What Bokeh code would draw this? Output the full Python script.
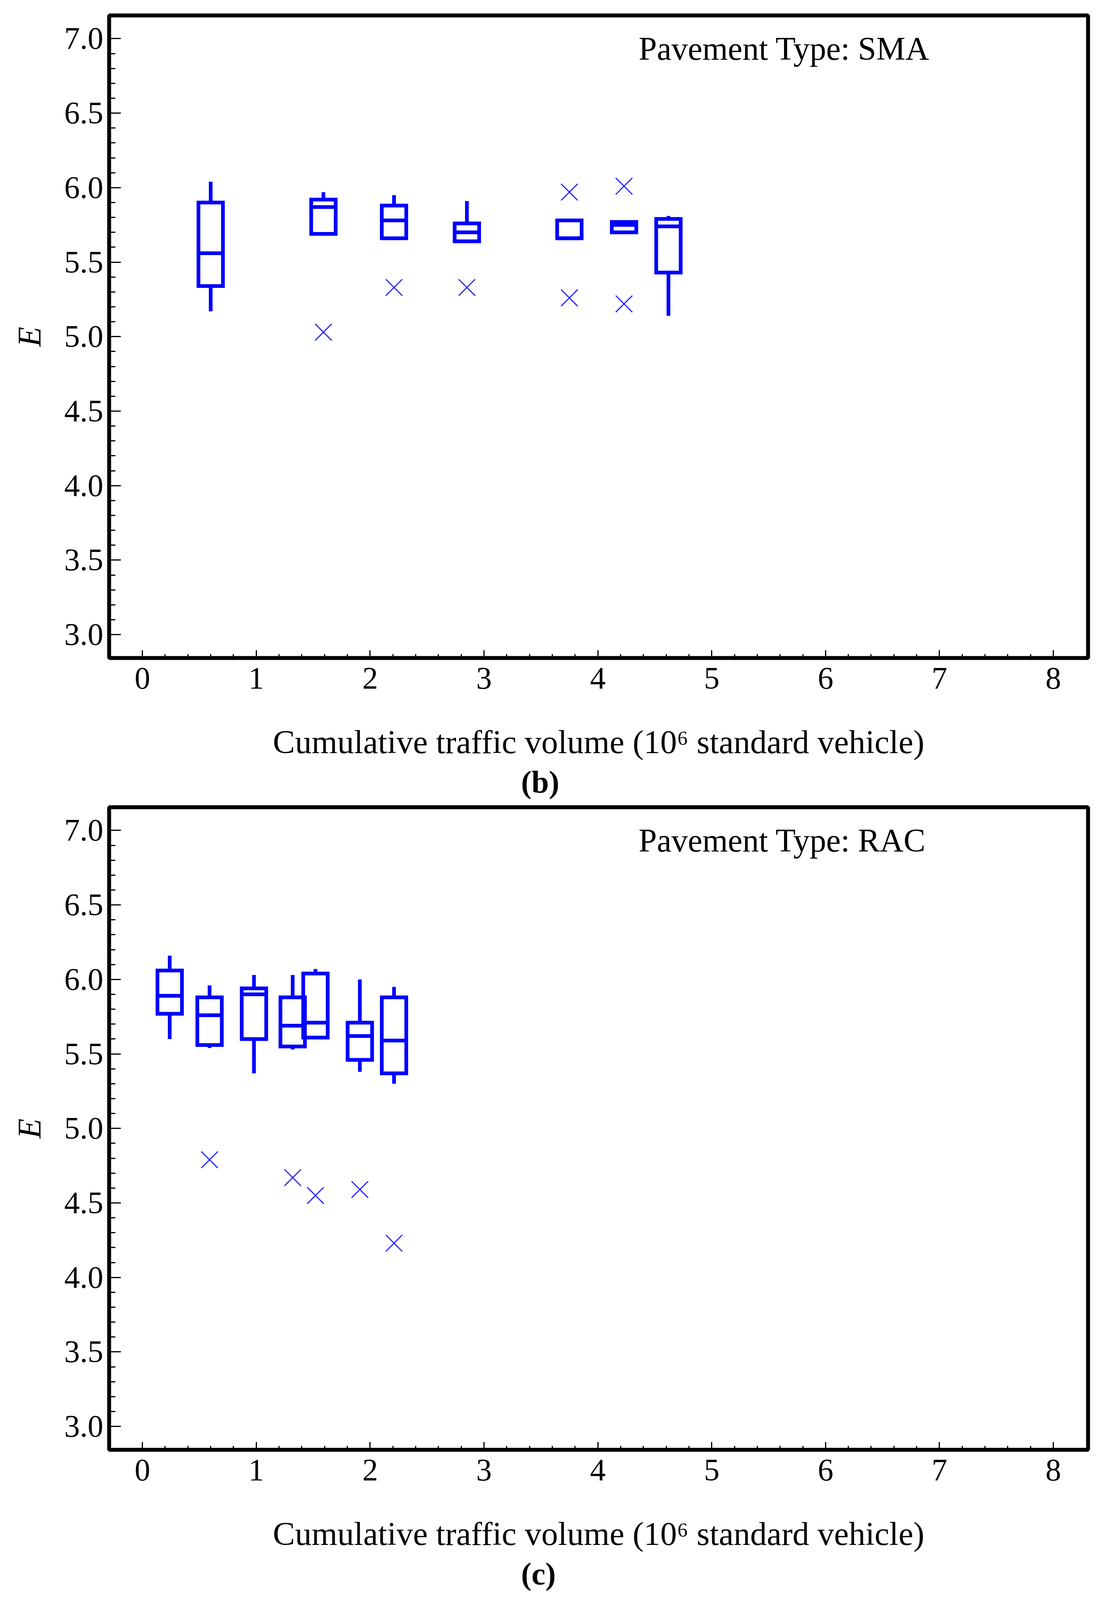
from bokeh.plotting import figure
from bokeh.models import FixedTicker, Label, ColumnDataSource, Title
from bokeh.layouts import column
from bokeh.embed import file_html
from bokeh.resources import INLINE

# ---------------- data ----------------
X_TICKS = [0, 1, 2, 3, 4, 5, 6, 7, 8]
X_TICK_LABELS = ["0", "1", "2", "3", "4", "5", "6", "7", "8"]
Y_TICKS = [3.0, 3.5, 4.0, 4.5, 5.0, 5.5, 6.0, 6.5, 7.0]
Y_TICK_LABELS = ["3.0", "3.5", "4.0", "4.5", "5.0", "5.5", "6.0", "6.5", "7.0"]
X_TITLE = "Cumulative traffic volume (10\u2076 standard vehicle)"
Y_TITLE = "E"

# SMA panel (b)
sma_x = [0.60, 1.59, 2.21, 2.85, 3.75, 4.23, 4.62]
sma_lo = [5.17, 5.69, 5.66, 5.64, 5.66, 5.70, 5.14]
sma_q1 = [5.34, 5.69, 5.66, 5.64, 5.66, 5.70, 5.43]
sma_med = [5.56, 5.87, 5.78, 5.70, 5.66, 5.75, 5.74]
sma_q3 = [5.90, 5.92, 5.88, 5.76, 5.78, 5.77, 5.79]
sma_hi = [6.04, 5.97, 5.95, 5.91, 5.78, 5.77, 5.81]
sma_out_x = [1.59, 2.21, 2.85, 3.75, 3.75, 4.23, 4.23]
sma_out_y = [5.03, 5.33, 5.33, 5.97, 5.26, 6.01, 5.22]

# RAC panel (c)
rac_x = [0.24, 0.59, 0.98, 1.32, 1.52, 1.91, 2.21]
rac_lo = [5.60, 5.54, 5.37, 5.53, 5.61, 5.38, 5.30]
rac_q1 = [5.77, 5.56, 5.60, 5.55, 5.61, 5.46, 5.37]
rac_med = [5.89, 5.76, 5.90, 5.69, 5.71, 5.62, 5.59]
rac_q3 = [6.06, 5.88, 5.94, 5.88, 6.04, 5.71, 5.88]
rac_hi = [6.16, 5.96, 6.03, 6.03, 6.07, 6.00, 5.95]
rac_out_x = [0.59, 1.32, 1.52, 1.91, 2.21]
rac_out_y = [4.79, 4.67, 4.55, 4.59, 4.23]

BOX_W = 0.215
FONT = "Liberation Serif"
BLUE = "#0000ff"
FRAME_H = 1645
BORDER_B = 376


def make_panel(xs, lo, q1, med, q3, hi, ox, oy, ptype, letter, border_top):
    height = border_top + FRAME_H + BORDER_B
    p = figure(width=2804, height=height, title=None,
               x_range=(-0.292, 8.305), y_range=(2.843, 7.156),
               output_backend="svg", toolbar_location=None,
               min_border_left=279, min_border_right=18,
               min_border_top=border_top, min_border_bottom=BORDER_B)
    p.grid.visible = False
    p.background_fill_color = "white"
    p.border_fill_color = "white"
    p.outline_line_color = "black"
    p.outline_line_width = 10

    minor_x = [i * 0.2 for i in range(1, 40) if i % 5 != 0]
    minor_y = [round(3.0 + 0.1 * i, 1) for i in range(1, 40) if i % 5 != 0]
    p.xaxis.ticker = FixedTicker(ticks=X_TICKS, minor_ticks=minor_x)
    p.yaxis.ticker = FixedTicker(ticks=Y_TICKS, minor_ticks=minor_y)
    p.xaxis.major_label_overrides = {t: l for t, l in zip(X_TICKS, X_TICK_LABELS)}
    p.yaxis.major_label_overrides = {t: l for t, l in zip(Y_TICKS, Y_TICK_LABELS)}

    for ax in (p.xaxis, p.yaxis):
        ax.axis_line_color = None
        ax.major_tick_out = 0
        ax.minor_tick_out = 0
        ax.major_tick_line_width = 3
        ax.minor_tick_line_width = 3
        ax.major_tick_line_color = "black"
        ax.minor_tick_line_color = "black"
        ax.major_label_text_font = FONT
        ax.major_label_text_font_size = "80px"
        ax.major_label_text_color = "black"
        ax.axis_label_text_font = FONT
        ax.axis_label_text_color = "black"
    p.yaxis.major_tick_in = 30
    p.yaxis.minor_tick_in = 16
    p.xaxis.major_tick_in = 20
    p.xaxis.minor_tick_in = 10
    p.yaxis.major_label_standoff = 15
    p.xaxis.major_label_standoff = 25

    p.xaxis.axis_label = X_TITLE
    p.xaxis.axis_label_text_font_size = "85px"
    p.xaxis.axis_label_text_font_style = "normal"
    p.xaxis.axis_label_standoff = 86
    p.yaxis.axis_label = Y_TITLE
    p.yaxis.axis_label_text_font_size = "84px"
    p.yaxis.axis_label_text_font_style = "italic"
    p.yaxis.axis_label_standoff = 40

    src = ColumnDataSource(dict(
        x=xs, lo=lo, q1=q1, med=med, q3=q3, hi=hi,
        left=[v - BOX_W / 2 for v in xs], right=[v + BOX_W / 2 for v in xs]))

    p.segment(x0="x", y0="q3", x1="x", y1="hi", source=src,
              line_color=BLUE, line_width=9.5, line_cap="butt")
    p.segment(x0="x", y0="q1", x1="x", y1="lo", source=src,
              line_color=BLUE, line_width=9.5, line_cap="butt")
    p.quad(left="left", right="right", bottom="q1", top="q3", source=src,
           fill_color=None, line_color=BLUE, line_width=9.5, line_join="miter")
    p.segment(x0="left", y0="med", x1="right", y1="med", source=src,
              line_color=BLUE, line_width=9.5, line_cap="butt")
    p.scatter(x=ox, y=oy, marker="x", size=60, line_color="#2a2aff",
              line_width=3)

    p.add_layout(Label(x=1356, y=1560, x_units="screen", y_units="screen",
                       text="Pavement Type: " + ptype, text_font=FONT,
                       text_font_size="84px", text_align="left",
                       text_baseline="alphabetic", text_color="black"))

    p.add_layout(Title(text="(" + letter + ")", align="left", offset=1055,
                       standoff=14, text_font=FONT, text_font_size="80px",
                       text_font_style="bold", text_color="black"), "below")
    return p


p1 = make_panel(sma_x, sma_lo, sma_q1, sma_med, sma_q3, sma_hi,
                sma_out_x, sma_out_y, "SMA", "b", 39)
p2 = make_panel(rac_x, rac_lo, rac_q1, rac_med, rac_q3, rac_hi,
                rac_out_x, rac_out_y, "RAC", "c", 6)

layout = column(p1, p2, spacing=0)
open("out.html", "w").write(file_html(layout, INLINE))
